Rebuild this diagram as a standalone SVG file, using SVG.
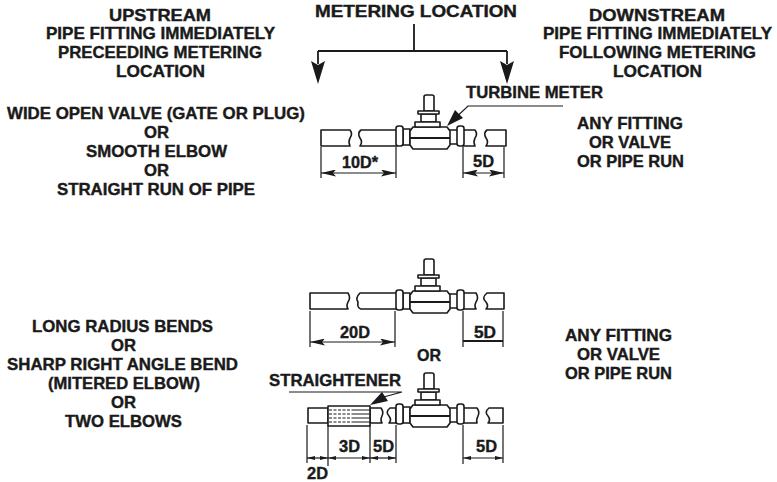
<svg xmlns="http://www.w3.org/2000/svg" width="777" height="482" viewBox="0 0 777 482">
<style>
text{font-family:"Liberation Sans",Arial,sans-serif;font-weight:bold;fill:#1a1a1a;stroke:#1a1a1a;stroke-width:.4;font-size:16.5px}
.p{fill:#fff;stroke:#1a1a1a;stroke-width:1.6;stroke-linejoin:round}
.d{fill:none;stroke:#1a1a1a;stroke-width:1.2}
.l{fill:none;stroke:#1a1a1a;stroke-width:1.8}
.h{fill:#1a1a1a}
</style>
<defs>
<marker id="a" viewBox="0 0 15 7" refX="15" refY="3.500" markerWidth="15" markerHeight="7" markerUnits="userSpaceOnUse" orient="auto-start-reverse"><path d="M0 0L15 3.500L0 7L3 3.500Z" fill="#1a1a1a"/></marker>
<marker id="s" viewBox="0 0 8 4" refX="8" refY="2" markerWidth="8" markerHeight="4" markerUnits="userSpaceOnUse" orient="auto-start-reverse"><path d="M0 0L8 2L0 4Z" fill="#1a1a1a"/></marker>
<g id="meter">
<rect class="p" x="-7" y="2" width="7" height="16"/>
<rect class="p" x="39" y="3" width="9" height="14"/>
<rect class="p" x="-14" y="-1" width="7" height="20" rx="2.500"/>
<rect class="p" x="47" y="-1" width="7" height="20" rx="2.500"/>
<path class="p" d="M3 0H37L40 4V18L37 22H3L0 18V4Z"/>
<path class="l" d="M0 11H40"/>
<path class="p" d="M14 -16V-30Q14 -32 16 -32H22Q24 -32 24 -30V-16Z"/>
<path class="p" d="M11 -13H26V-5H11Z"/>
<path class="p" d="M8 -16H29V-13H8Z"/>
<path class="p" d="M5 -5H30V0H5Z"/>
</g>
</defs>
<g id="labels">
<text x="109" y="21" textLength="102" lengthAdjust="spacingAndGlyphs">UPSTREAM</text>
<text x="46" y="39" textLength="229" lengthAdjust="spacingAndGlyphs">PIPE FITTING IMMEDIATELY</text>
<text x="58" y="58" textLength="204" lengthAdjust="spacingAndGlyphs">PRECEEDING METERING</text>
<text x="116" y="77" textLength="89" lengthAdjust="spacingAndGlyphs">LOCATION</text>
<text x="315" y="17" textLength="202" lengthAdjust="spacingAndGlyphs">METERING LOCATION</text>
<text x="589" y="21" textLength="136" lengthAdjust="spacingAndGlyphs">DOWNSTREAM</text>
<text x="543" y="39" textLength="229" lengthAdjust="spacingAndGlyphs">PIPE FITTING IMMEDIATELY</text>
<text x="559" y="58" textLength="197" lengthAdjust="spacingAndGlyphs">FOLLOWING METERING</text>
<text x="613" y="77" textLength="89" lengthAdjust="spacingAndGlyphs">LOCATION</text>
<text x="7" y="119" textLength="298" lengthAdjust="spacingAndGlyphs">WIDE OPEN VALVE (GATE OR PLUG)</text>
<text x="144" y="138" textLength="25" lengthAdjust="spacingAndGlyphs">OR</text>
<text x="86" y="157" textLength="141" lengthAdjust="spacingAndGlyphs">SMOOTH ELBOW</text>
<text x="144" y="176" textLength="25" lengthAdjust="spacingAndGlyphs">OR</text>
<text x="57" y="195" textLength="198" lengthAdjust="spacingAndGlyphs">STRAIGHT RUN OF PIPE</text>
<text x="577" y="129" textLength="106" lengthAdjust="spacingAndGlyphs">ANY FITTING</text>
<text x="589" y="148" textLength="82" lengthAdjust="spacingAndGlyphs">OR VALVE</text>
<text x="577" y="167" textLength="107" lengthAdjust="spacingAndGlyphs">OR PIPE RUN</text>
<text x="32" y="332" textLength="181" lengthAdjust="spacingAndGlyphs">LONG RADIUS BENDS</text>
<text x="111" y="351" textLength="25" lengthAdjust="spacingAndGlyphs">OR</text>
<text x="7" y="370" textLength="231" lengthAdjust="spacingAndGlyphs">SHARP RIGHT ANGLE BEND</text>
<text x="48" y="389" textLength="152" lengthAdjust="spacingAndGlyphs">(MITERED ELBOW)</text>
<text x="111" y="408" textLength="25" lengthAdjust="spacingAndGlyphs">OR</text>
<text x="65" y="427" textLength="117" lengthAdjust="spacingAndGlyphs">TWO ELBOWS</text>
<text x="565" y="341" textLength="107" lengthAdjust="spacingAndGlyphs">ANY FITTING</text>
<text x="577" y="360" textLength="83" lengthAdjust="spacingAndGlyphs">OR VALVE</text>
<text x="565" y="379" textLength="107" lengthAdjust="spacingAndGlyphs">OR PIPE RUN</text>
<text x="417" y="361" textLength="24" lengthAdjust="spacingAndGlyphs">OR</text>
<text x="466" y="98" textLength="137" lengthAdjust="spacingAndGlyphs">TURBINE METER</text>
<text x="269" y="386" textLength="132" lengthAdjust="spacingAndGlyphs">STRAIGHTENER</text>
<text x="342" y="168" textLength="36" lengthAdjust="spacingAndGlyphs">10D*</text>
<text x="473" y="167" textLength="21" lengthAdjust="spacingAndGlyphs">5D</text>
<text x="340" y="338" textLength="30" lengthAdjust="spacingAndGlyphs">20D</text>
<text x="474" y="338" textLength="22" lengthAdjust="spacingAndGlyphs">5D</text>
<text x="339" y="452" textLength="21" lengthAdjust="spacingAndGlyphs">3D</text>
<text x="373" y="452" textLength="21" lengthAdjust="spacingAndGlyphs">5D</text>
<text x="476" y="452" textLength="21" lengthAdjust="spacingAndGlyphs">5D</text>
<text x="307" y="479" textLength="21" lengthAdjust="spacingAndGlyphs">2D</text>
</g>
<g id="connectors">
<path class="l" d="M414 24V51M318 51H507M318 51V64M507 51V64"/>
<path class="h" d="M311 61L318 65L325 61L318 84Z"/>
<path class="h" d="M500 61L507 65L514 61L507 84Z"/>
<path class="d" d="M563 106H468L450 123"/>
<path class="h" d="M447 126L455 110L463 118Z"/>
<path class="d" d="M321 147V178M396 147V178M463 147V178M504 147V178"/>
<path class="d" d="M321 173H396" marker-start="url(#a)" marker-end="url(#a)"/>
<path class="d" d="M463 173H504" marker-start="url(#a)" marker-end="url(#a)"/>
<path class="d" d="M310 311V347M395 311V347M463 311V347M503 311V347"/>
<path class="d" d="M310 342H395" marker-start="url(#a)" marker-end="url(#a)"/>
<path class="l" d="M463 341H503"/>
<path class="d" d="M289 392H402L380 398"/>
<path class="h" d="M370 405L382 392L388 401Z"/>
<path class="d" d="M307 425V463M328 425V466M370 425V463M396 425V463M463 425V464M503 425V463"/>
<path class="d" d="M307 458H328" marker-start="url(#s)" marker-end="url(#s)"/>
<path class="d" d="M328 458H370" marker-start="url(#s)" marker-end="url(#s)"/>
<path class="d" d="M370 458H396" marker-start="url(#s)" marker-end="url(#s)"/>
<path class="d" d="M463 458H503" marker-start="url(#s)" marker-end="url(#s)"/>
</g>
<g id="meter-1"><path class="p" d="M321 130H350Q353 134 350 138Q348 142 350 146H321Z"/><path class="p" d="M397 130H361Q357 133 360 138Q363 142 360 146H397Z"/><path class="p" d="M463 130H475Q478 134 475 138Q473 142 475 146H463Z"/><path class="p" d="M506 130H487Q483 133 486 138Q489 142 486 146H506Z"/><use href="#meter" x="410" y="127"/></g>
<g id="meter-2"><path class="p" d="M310 293H348Q351 298 348 302Q346 306 348 309H310Z"/><path class="p" d="M397 293H360Q355 298 358 302Q357 308 361 309H397Z"/><path class="p" d="M463 293H476Q479 298 476 302Q474 306 476 309H463Z"/><path class="p" d="M504 293H487Q481 298 486 302Q489 306 486 309H504Z"/><use href="#meter" x="410" y="291"/></g>
<g id="meter-3"><rect class="p" x="308" y="408" width="20" height="15"/><path class="p" d="M370 408H381Q384 412 382 416Q380 420 382 423H370Z"/><path class="p" d="M396 408H390Q385 412 389 416Q392 420 389 423H396Z"/><path class="p" d="M463 408H477Q480 412 478 416Q476 420 477 423H463Z"/><path class="p" d="M503 408H489Q484 412 488 416Q491 420 488 423H503Z"/><use href="#meter" x="410" y="405"/></g>
<g id="straightener"><rect class="p" x="328" y="406" width="42" height="20"/><path class="d" d="M352 410H370M352 414H370M352 418H370M352 422H370"/><path d="M329 410H352M329 414H352M329 418H352M329 422H352" fill="none" stroke="#1a1a1a" stroke-width="1.200" stroke-dasharray="3 1.500"/></g>
</svg>
